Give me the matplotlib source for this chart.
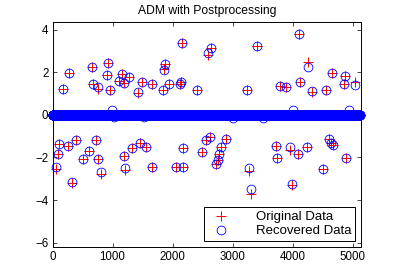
import numpy as np
import matplotlib
matplotlib.use("Agg")
from matplotlib import pyplot as plt

# signal length and the sparse spikes (index, original value, recovered value)
n_samples = 5120
spike_idx = [167, 272, 660, 933, 910, 672, 760, 950, 1155, 1105, 1188, 1272, 1422, 1483,
             1660, 1833, 1938, 1855, 1877, 2160, 2138, 2127, 2400, 2593, 2643, 3243, 3410,
             4100, 4250, 4660, 4872, 3788, 3888, 4122, 4317, 4550, 4855, 5038,
             60, 93, 105, 250, 388, 333, 500, 610, 717, 750, 805, 1193, 1205, 1327, 1455,
             1555, 1650, 2167, 2050, 2172, 2550, 2627, 2493, 2883, 2800, 2772, 2750, 2717,
             3272, 3305, 3720, 3745, 3955, 4083, 4243, 3988, 4510, 4605, 4638, 4672, 4883]
orig_vals = [1.20, 1.99, 2.23, 2.44, 1.86, 1.43, 1.20, 1.19, 1.94, 1.60, 1.52, 1.78, 1.05, 1.55,
             1.47, 1.19, 1.43, 2.15, 2.37, 3.40, 1.55, 1.45, 1.15, 2.80, 3.13, 1.15, 3.23,
             3.82, 2.50, 1.99, 1.83, 1.35, 1.31, 1.54, 1.08, 1.17, 1.43, 1.55,
             -2.55, -1.83, -1.39, -1.44, -1.19, -3.20, -2.09, -1.70, -1.19, -2.07, -2.78, -1.91,
             -2.58, -1.55, -1.34, -1.52, -2.47, -1.55, -2.46, -2.44, -1.19, -1.03, -1.74, -1.15,
             -1.53, -1.85, -2.13, -2.31, -2.65, -3.70, -1.46, -2.02, -1.65, -1.86, -1.52, -3.30,
             -2.54, -1.13, -1.30, -1.42, -2.02]
rec_vals = [1.24, 1.99, 2.23, 2.44, 1.86, 1.43, 1.31, 1.19, 1.94, 1.60, 1.52, 1.78, 1.08, 1.55,
            1.47, 1.19, 1.43, 2.10, 2.37, 3.40, 1.55, 1.43, 1.19, 2.91, 3.13, 1.19, 3.23,
            3.82, 2.23, 1.99, 1.83, 1.35, 1.31, 1.54, 1.11, 1.17, 1.43, 1.39,
            -2.44, -1.83, -1.39, -1.44, -1.19, -3.13, -2.09, -1.70, -1.19, -2.07, -2.70, -1.91,
            -2.49, -1.55, -1.34, -1.52, -2.47, -1.55, -2.46, -2.44, -1.19, -1.03, -1.74, -1.15,
            -1.53, -1.85, -2.13, -2.31, -2.50, -3.47, -1.46, -2.02, -1.52, -1.86, -1.52, -3.25,
            -2.54, -1.13, -1.30, -1.42, -2.02]
# small recovery errors where the original is zero
noise_idx = [910, 988, 1155, 1017, 1517, 3005, 3505, 4000, 4938]
noise_vals = [0.22, 0.25, 0.22, -0.12, -0.12, -0.15, -0.15, 0.22, 0.22]

t = np.arange(1, n_samples + 1)
original = np.zeros(n_samples)
recovered = np.zeros(n_samples)
original[np.array(spike_idx) - 1] = orig_vals
recovered[np.array(noise_idx) - 1] = noise_vals
recovered[np.array(spike_idx) - 1] = rec_vals

plt.rcParams['font.family'] = ['Liberation Sans', 'DejaVu Sans']

fig = plt.figure(figsize=(3.99, 2.80), dpi=100)
ax = fig.add_axes([52.5 / 399, 1 - 247.3 / 280, (361 - 52.5) / 399, (247.3 - 22.3) / 280])

ax.plot(t, original, ls='none', marker='+', color='r', ms=7, mew=0.7, label='Original Data',
        clip_on=False)
ax.plot(t, recovered, ls='none', marker='o', mfc='none', mec='b', ms=6.3, mew=0.6,
        label='Recovered Data', clip_on=False)

ax.set_xlim(0, 5140)
ax.set_ylim(-6.22, 4.35)
ax.set_xticks([0, 1000, 2000, 3000, 4000, 5000])
ax.set_yticks([-6, -4, -2, 0, 2, 4])
ax.tick_params(direction='in', top=True, right=True, length=3, width=0.5, labelsize=8.3, pad=3)
for s in ax.spines.values():
    s.set_linewidth(0.7)
ax.set_title('ADM with Postprocessing', fontsize=8.7, pad=6)

leg = ax.legend(loc='lower right', fontsize=9.5, fancybox=False, edgecolor='k',
                framealpha=1, borderpad=0.3, labelspacing=0.15, handletextpad=1.6,
                borderaxespad=0.45, numpoints=1)
leg.get_frame().set_linewidth(0.7)

fig.savefig('out.png', dpi=100)
